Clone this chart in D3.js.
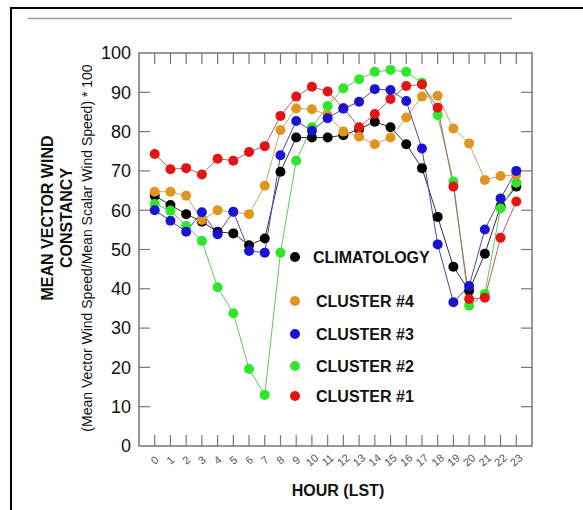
<!DOCTYPE html>
<html>
<head>
<meta charset="utf-8">
<script src="https://cdn.jsdelivr.net/npm/d3@7"></script>
<style>
  body { margin: 0; background: #fff; }
  svg text { font-family: "Liberation Sans", Arial, sans-serif; }
</style>
</head>
<body>
<div id="chart"></div>
<script>
// Hours of the day and the five series
const hours = d3.range(0, 24);
const yTicks = [0, 10, 20, 30, 40, 50, 60, 70, 80, 90, 100];

const climatology = [63.7, 61.3, 59.0, 57.1, 54.5, 54.1, 51.1, 52.8, 69.8, 78.5, 78.5, 78.5,
                     79.1, 80.6, 82.5, 81.1, 76.8, 70.7, 58.3, 45.6, 39.5, 48.9, 61.0, 66.0];
const cluster4 = [64.7, 64.7, 63.7, 57.5, 60.0, 59.5, 59.0, 66.2, 80.4, 85.9, 85.7, 84.2,
                  80.0, 78.7, 76.8, 78.5, 83.6, 88.9, 89.1, 80.8, 77.0, 67.7, 68.7, 69.0];
const cluster3 = [60.0, 57.3, 54.5, 59.5, 53.9, 59.6, 49.6, 49.2, 74.0, 82.7, 80.2, 83.4,
                  85.8, 87.6, 90.8, 90.6, 87.8, 75.7, 51.3, 36.6, 40.7, 55.1, 63.0, 70.0];
const cluster2 = [61.6, 59.9, 56.0, 52.2, 40.4, 33.8, 19.6, 13.0, 49.2, 72.6, 81.1, 86.5,
                  91.0, 93.3, 95.2, 95.7, 95.2, 92.4, 84.2, 67.3, 35.7, 38.7, 60.5, 67.0];
const cluster1 = [74.3, 70.4, 70.7, 69.1, 73.1, 72.6, 74.8, 76.3, 84.0, 88.9, 91.4, 90.2,
                  86.0, 81.1, 84.5, 88.3, 91.6, 92.0, 86.1, 66.0, 37.4, 37.7, 53.0, 62.2];

const seriesNames = ["CLIMATOLOGY", "CLUSTER #4", "CLUSTER #3", "CLUSTER #2", "CLUSTER #1"];
const seriesValues = [climatology, cluster4, cluster3, cluster2, cluster1];
const seriesColors = ["#000000", "#e0961e", "#1a14d2", "#2ee62a", "#e41414"];
const lineColors = ["#333333", "#c9a66a", "#4a4aa0", "#5cc85a", "#b06060"];

const width = 583, height = 510;
const svg = d3.select("#chart").append("svg")
    .attr("width", width)
    .attr("height", height);

// outer frame and the grey rule at the top
svg.append("rect")
    .attr("x", 11).attr("y", 8)
    .attr("width", 600).attr("height", 600)
    .attr("fill", "none")
    .attr("stroke", "#000")
    .attr("stroke-width", 2);
svg.append("line")
    .attr("x1", 28).attr("x2", 512)
    .attr("y1", 18.5).attr("y2", 18.5)
    .attr("stroke", "#999")
    .attr("stroke-width", 1.5);

// scales
const x = d3.scaleLinear().domain([-1, 24]).range([139, 532]);
const y = d3.scaleLinear().domain([0, 100]).range([446, 53]);

const axisColor = "#777";
const tickLen = 11;

// plot frame
svg.append("rect")
    .attr("x", x(-1)).attr("y", y(100))
    .attr("width", x(24) - x(-1)).attr("height", y(0) - y(100))
    .attr("fill", "none")
    .attr("stroke", axisColor)
    .attr("stroke-width", 1.5);

// x ticks (bottom up, top down)
const gx = svg.append("g");
hours.forEach(h => {
    gx.append("line")
        .attr("x1", x(h)).attr("x2", x(h))
        .attr("y1", y(0)).attr("y2", y(0) - tickLen)
        .attr("stroke", axisColor).attr("stroke-width", 1.2);
    gx.append("line")
        .attr("x1", x(h)).attr("x2", x(h))
        .attr("y1", y(100)).attr("y2", y(100) + tickLen)
        .attr("stroke", axisColor).attr("stroke-width", 1.2);
    gx.append("text")
        .attr("transform", "translate(" + x(h) + "," + (y(0) + 14) + ") rotate(-40)")
        .attr("text-anchor", "middle")
        .attr("dy", "0.35em")
        .attr("font-size", 11)
        .attr("fill", "#555")
        .text(h);
});

// y ticks (left in, right in)
const gy = svg.append("g");
yTicks.forEach(v => {
    if (v > 0 && v < 100) {
        gy.append("line")
            .attr("x1", x(-1)).attr("x2", x(-1) + tickLen)
            .attr("y1", y(v)).attr("y2", y(v))
            .attr("stroke", axisColor).attr("stroke-width", 1.2);
        gy.append("line")
            .attr("x1", x(24)).attr("x2", x(24) - tickLen)
            .attr("y1", y(v)).attr("y2", y(v))
            .attr("stroke", axisColor).attr("stroke-width", 1.2);
    }
    gy.append("text")
        .attr("x", 131)
        .attr("y", y(v))
        .attr("dy", "0.35em")
        .attr("text-anchor", "end")
        .attr("font-size", 18)
        .attr("fill", "#111")
        .text(v);
});

// axis titles
svg.append("text")
    .attr("x", 338).attr("y", 496)
    .attr("text-anchor", "middle")
    .attr("font-size", 16)
    .attr("font-weight", "bold")
    .attr("fill", "#111")
    .text("HOUR (LST)");

const yTitle = [
    { text: "MEAN VECTOR WIND", x: 47, cy: 218, size: 16, weight: "bold" },
    { text: "CONSTANCY", x: 66, cy: 218, size: 16, weight: "bold" },
    { text: "(Mean Vector Wind Speed/Mean Scalar Wind Speed) * 100", x: 87, cy: 248, size: 14, weight: "normal" }
];
yTitle.forEach(t => {
    svg.append("text")
        .attr("transform", "translate(" + t.x + "," + t.cy + ") rotate(-90)")
        .attr("text-anchor", "middle")
        .attr("dy", "0.35em")
        .attr("font-size", t.size)
        .attr("font-weight", t.weight)
        .attr("fill", "#111")
        .text(t.text);
});

// series: lines then dots
const drawOrder = [0, 3, 4, 1, 2];
const line = d3.line()
    .x((d, i) => x(hours[i]))
    .y(d => y(d));

drawOrder.forEach(k => {
    svg.append("path")
        .datum(seriesValues[k])
        .attr("d", line)
        .attr("fill", "none")
        .attr("stroke", lineColors[k])
        .attr("stroke-width", 1);
});
drawOrder.forEach(k => {
    svg.append("g")
        .selectAll("circle")
        .data(seriesValues[k])
        .enter()
        .append("circle")
        .attr("cx", (d, i) => x(hours[i]))
        .attr("cy", d => y(d))
        .attr("r", 5)
        .attr("fill", seriesColors[k]);
});

// legend
const legendY = [257, 301, 334, 366, 396];
seriesNames.forEach((name, k) => {
    svg.append("circle")
        .attr("cx", 295).attr("cy", legendY[k])
        .attr("r", 5)
        .attr("fill", seriesColors[k]);
    svg.append("text")
        .attr("x", k == 0 ? 313 : 316)
        .attr("y", legendY[k])
        .attr("dy", "0.35em")
        .attr("font-size", 16)
        .attr("font-weight", "bold")
        .attr("fill", "#111")
        .text(name);
});
</script>
</body>
</html>
